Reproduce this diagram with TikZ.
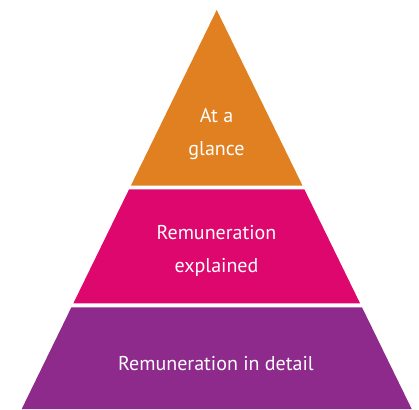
\documentclass[tikz,border=0pt]{standalone}
\usepackage{fontspec}
\setmainfont{PT Sans}
\usetikzlibrary{calc}
\definecolor{cOrange}{RGB}{224,128,32}
\definecolor{cPink}{RGB}{221,7,110}
\definecolor{cPurple}{RGB}{141,42,139}
\begin{document}
\begin{tikzpicture}[x=1pt,y=-1pt,
  lbl/.style={text=white,font=\fontsize{20}{32.5}\selectfont,align=center,inner sep=0pt}]
\useasboundingbox (0,0) rectangle (419,409);
\coordinate (A) at (216.7,10);
\coordinate (L) at (21.7,409);
\coordinate (R) at (411.7,409);
\fill[cOrange] (A) -- ($(A)!0.4404!(L)$) -- ($(A)!0.4404!(R)$) -- cycle;
\fill[cPink] ($(A)!0.4494!(L)$) -- ($(A)!0.7351!(L)$) -- ($(A)!0.7351!(R)$) -- ($(A)!0.4494!(R)$) -- cycle;
\fill[cPurple] ($(A)!0.7451!(L)$) -- (L) -- (R) -- ($(A)!0.7451!(R)$) -- cycle;
\node[lbl,anchor=base] (t1) at (216.5,155) {At a\\glance};
\node[lbl,anchor=base] (t2) at (216.5,272) {Remuneration\\explained};
\node[lbl,anchor=base] (t3) at (216,370) {Remuneration in detail};
\end{tikzpicture}
\end{document}
